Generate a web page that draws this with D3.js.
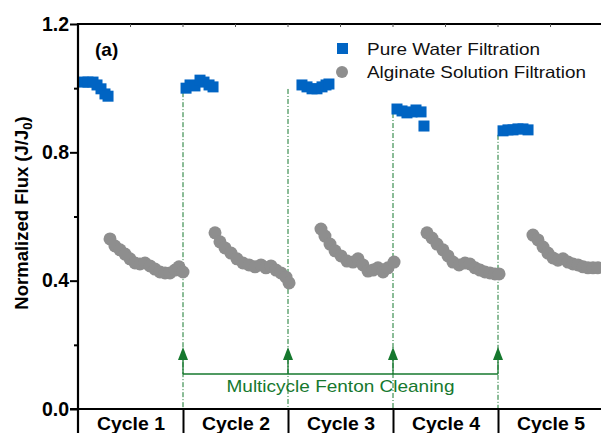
<!DOCTYPE html>
<html><head><meta charset="utf-8">
<script src="https://cdn.jsdelivr.net/npm/d3@7"></script>
<style>
html,body{margin:0;padding:0;background:#fff;overflow:hidden}
text{font-family:Arial,"Liberation Sans",sans-serif}
</style></head>
<body><svg id="c" width="601" height="433"></svg>
<script>
// time in cycle units (0..5), normalized flux J/J0
const pureT = [0.048,0.095,0.143,0.181,0.219,0.257,0.286,
  1.029,1.067,1.114,1.162,1.200,1.248,1.286,
  2.133,2.181,2.229,2.276,2.324,2.362,2.390,
  3.038,3.086,3.133,3.181,3.219,3.267,3.295,
  4.048,4.095,4.143,4.190,4.238,4.286];
const pureFlux = [1.019,1.019,1.019,1.010,0.998,0.982,0.975,
  1.000,1.010,1.007,1.025,1.019,1.010,1.004,
  1.010,1.004,0.998,0.998,1.004,1.010,1.013,
  0.935,0.929,0.923,0.926,0.932,0.926,0.882,
  0.867,0.870,0.870,0.873,0.873,0.870];
const algT = [0.305,0.352,0.400,0.448,0.495,0.543,0.590,0.638,0.686,0.733,0.781,0.829,0.876,0.924,0.962,1.000,
  1.305,1.352,1.400,1.457,1.514,1.571,1.629,1.686,1.743,1.790,1.838,1.886,1.933,1.981,2.010,
  2.314,2.352,2.400,2.448,2.505,2.562,2.619,2.667,2.714,2.762,2.810,2.857,2.905,2.952,3.010,
  3.324,3.371,3.419,3.476,3.524,3.571,3.629,3.686,3.733,3.781,3.829,3.876,3.924,3.971,4.010,
  4.333,4.381,4.429,4.476,4.524,4.571,4.619,4.667,4.714,4.762,4.810,4.857,4.905,4.952];
const algFlux = [0.530,0.508,0.496,0.483,0.468,0.455,0.452,0.455,0.446,0.436,0.427,0.424,0.424,0.433,0.443,0.427,
  0.549,0.521,0.502,0.486,0.468,0.455,0.449,0.443,0.449,0.440,0.446,0.433,0.424,0.411,0.393,
  0.561,0.539,0.514,0.493,0.477,0.461,0.458,0.468,0.449,0.430,0.433,0.440,0.427,0.440,0.458,
  0.549,0.533,0.514,0.496,0.477,0.458,0.449,0.455,0.452,0.440,0.433,0.427,0.424,0.421,0.421,
  0.542,0.527,0.505,0.486,0.471,0.464,0.468,0.458,0.452,0.449,0.443,0.440,0.440,0.440];
const cycleLabels = ["Cycle 1","Cycle 2","Cycle 3","Cycle 4","Cycle 5"];
const cleaningAt = [1,2,3,4];
const yMajor = [0,0.4,0.8,1.2];
const yMinor = [0.2,0.6,1.0];
const seriesNames = ["Pure Water Filtration","Alginate Solution Filtration"];
const annotation = "Multicycle Fenton Cleaning";
const panelLabel = "(a)";

const BLUE="#0064c3", GRAY="#8e8e8e", GREEN="#16782e";
const svg = d3.select("#c");
const x = d3.scaleLinear().domain([0,5]).range([78,603]);
const y = d3.scaleLinear().domain([0,1.2]).range([409,24]);

// green cleaning lines (dash-dot) from next cycle's first pure point to axis
const firstPure = cleaningAt.map(c => { const i = pureT.findIndex(t => t > c); return pureFlux[i]; });
svg.append("g").selectAll("line").data(cleaningAt).join("line")
  .attr("x1",d=>x(d)).attr("x2",d=>x(d))
  .attr("y1",(d,i)=>y(firstPure[i])+4).attr("y2",y(0))
  .attr("stroke",GREEN).attr("stroke-width",1).attr("stroke-dasharray","5,2,1,2");
// arrows
const arrowBaseY = 360, arrowTipY = 347, barY = 374;
svg.append("g").selectAll("line").data(cleaningAt).join("line")
  .attr("x1",d=>x(d)).attr("x2",d=>x(d)).attr("y1",barY).attr("y2",arrowBaseY)
  .attr("stroke",GREEN).attr("stroke-width",1.3);
svg.append("g").selectAll("path").data(cleaningAt).join("path")
  .attr("d",d=>`M${x(d)},${arrowTipY}L${x(d)-5},${arrowBaseY}L${x(d)+5},${arrowBaseY}Z`)
  .attr("fill",GREEN);
svg.append("line").attr("x1",x(cleaningAt[0])).attr("x2",x(cleaningAt[cleaningAt.length-1]))
  .attr("y1",barY).attr("y2",barY).attr("stroke",GREEN).attr("stroke-width",1.3);
svg.append("text").attr("x",(x(cleaningAt[0])+x(cleaningAt[3]))/2).attr("y",392)
  .attr("text-anchor","middle").attr("fill",GREEN).attr("font-size",17)
  .attr("textLength",228).attr("lengthAdjust","spacingAndGlyphs").text(annotation);

// clip for data
svg.append("clipPath").attr("id","pc").append("rect").attr("x",79).attr("y",25).attr("width",530).attr("height",383);
const dg = svg.append("g").attr("clip-path","url(#pc)");
dg.selectAll("circle").data(algT).join("circle")
  .attr("cx",d=>x(d)).attr("cy",(d,i)=>y(algFlux[i])).attr("r",6.5).attr("fill",GRAY);
dg.selectAll("rect").data(pureT).join("rect")
  .attr("x",d=>x(d)-5.5).attr("y",(d,i)=>y(pureFlux[i])-5.5).attr("width",11).attr("height",11).attr("fill",BLUE);

// frame
svg.append("line").attr("x1",x(0)).attr("x2",601).attr("y1",y(1.2)).attr("y2",y(1.2)).attr("stroke","#000").attr("stroke-width",2);
// top minor ticks
svg.append("g").selectAll("line").data(d3.range(0.5,5,0.5)).join("line")
  .attr("x1",d=>x(d)).attr("x2",d=>x(d)).attr("y1",y(1.2)).attr("y2",y(1.2)+3)
  .attr("stroke","#555").attr("stroke-width",1);

// left axis
const ya = d3.axisLeft(y).tickValues(yMajor).tickSize(8).tickPadding(1).tickFormat(d3.format(".1f"));
const yg = svg.append("g").attr("transform",`translate(${x(0)},0)`).call(ya);
yg.select(".domain").remove();
yg.selectAll(".tick line").attr("stroke","#000").attr("stroke-width",2);
yg.selectAll(".tick text").attr("font-size",19.5).attr("font-weight","bold").attr("fill","#000")
  .attr("font-family","Arial,'Liberation Sans',sans-serif");
const ym = svg.append("g").attr("transform",`translate(${x(0)},0)`)
  .call(d3.axisLeft(y).tickValues(yMinor).tickSize(4).tickFormat(""));
ym.select(".domain").remove();
ym.selectAll(".tick line").attr("stroke","#000").attr("stroke-width",2);
svg.append("line").attr("x1",x(0)).attr("x2",x(0)).attr("y1",y(1.2)-1).attr("y2",433).attr("stroke","#000").attr("stroke-width",2.2);

// bottom axis + cycle separators
svg.append("line").attr("x1",70).attr("x2",601).attr("y1",y(0)).attr("y2",y(0)).attr("stroke","#000").attr("stroke-width",2.2);
const xs = svg.append("g").attr("transform",`translate(0,${y(0)})`)
  .call(d3.axisBottom(x).tickValues(cleaningAt).tickSize(24).tickFormat(""));
xs.select(".domain").remove();
xs.selectAll(".tick line").attr("stroke","#000").attr("stroke-width",2);
const xl = svg.append("g").attr("transform",`translate(0,${y(0)})`)
  .call(d3.axisBottom(x).tickValues(cycleLabels.map((c,i)=>i+0.5)).tickSize(0).tickPadding(0)
    .tickFormat((d,i)=>cycleLabels[i]));
xl.select(".domain").remove();
xl.selectAll(".tick text").attr("dy",null).attr("y",21).attr("font-size",18).attr("font-weight","bold")
  .attr("fill","#000").attr("textLength",68).attr("lengthAdjust","spacingAndGlyphs")
  .attr("font-family","Arial,'Liberation Sans',sans-serif");

// y label
const yl = svg.append("text").attr("transform","translate(28,213) rotate(-90)")
  .attr("text-anchor","middle").attr("font-size",18.5).attr("font-weight","bold").attr("fill","#000");
yl.append("tspan").text("Normalized Flux (J/J");
yl.append("tspan").attr("font-size",13).attr("dy",4).text("0");
yl.append("tspan").attr("dy",-4).text(")");

// panel label
svg.append("text").attr("x",95).attr("y",56).attr("font-size",19).attr("font-weight","bold").text(panelLabel);

// legend
const lg = svg.append("g");
lg.append("rect").attr("x",337).attr("y",43).attr("width",11).attr("height",11).attr("fill",BLUE);
lg.append("circle").attr("cx",342).attr("cy",72).attr("r",6).attr("fill",GRAY);
lg.selectAll("text").data(seriesNames).join("text")
  .attr("x",367).attr("y",(d,i)=>55+i*23).attr("font-size",16.5).attr("fill","#111")
  .attr("textLength",(d,i)=>i?219:173).attr("lengthAdjust","spacingAndGlyphs").text(d=>d);
</script></body></html>
